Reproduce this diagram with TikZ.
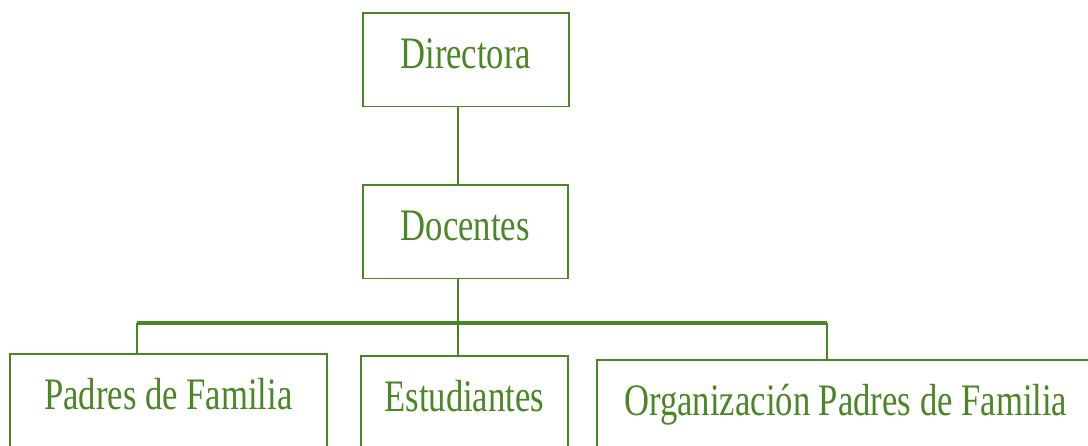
\documentclass[tikz,border=0pt]{standalone}
\usepackage{fontspec}
\setmainfont{Liberation Serif}[FakeStretch=0.77]
\usepackage{tikz}
\usetikzlibrary{calc, positioning}
\definecolor{orggreen}{RGB}{74,134,36}

\begin{document}
\begin{tikzpicture}[x=1pt,y=-1pt,
    cargo/.style={draw=orggreen, line width=1.6pt, text=orggreen, inner xsep=0pt, inner ysep=0pt,
        font=\fontsize{45}{50}\selectfont, text height=56pt, text depth=37.5pt, anchor=north west},
    cargobajo/.style={cargo, text depth=70pt},
    enlace/.style={draw=orggreen, line width=2.4pt}]
        \useasboundingbox (0,0) rectangle (1088,445);
        \clip (0,0) rectangle (1088,445);
        \fill[white] (0,0) rectangle (1088,445);
        \node[cargo, minimum width=206pt] (dir) at (362,12) {Directora};
        \node[cargo, minimum width=205pt] (doc) at (362,184) {Docentes};
        \node[cargobajo, minimum width=317pt] (padres) at (9,353) {Padres de Familia};
        \node[cargobajo, minimum width=207pt] (est) at (360,355) {Estudiantes};
        \node[cargobajo, minimum width=498pt] (org) at (596,359) {Organización Padres de Familia};
        \coordinate (tronco) at (458,323);
        \coordinate (barraL) at (137,323);
        \coordinate (barraR) at (827,323);
        \draw[enlace] (dir.south -| tronco) -- (doc.north -| tronco);
        \draw[enlace] (doc.south -| tronco) -- (est.north -| tronco);
        \draw[enlace, line width=3.2pt] (barraL) -- (barraR);
        \draw[enlace] (padres.north -| barraL) -- (barraL);
        \draw[enlace] (org.north -| barraR) -- (barraR);
\end{tikzpicture}
\end{document}
